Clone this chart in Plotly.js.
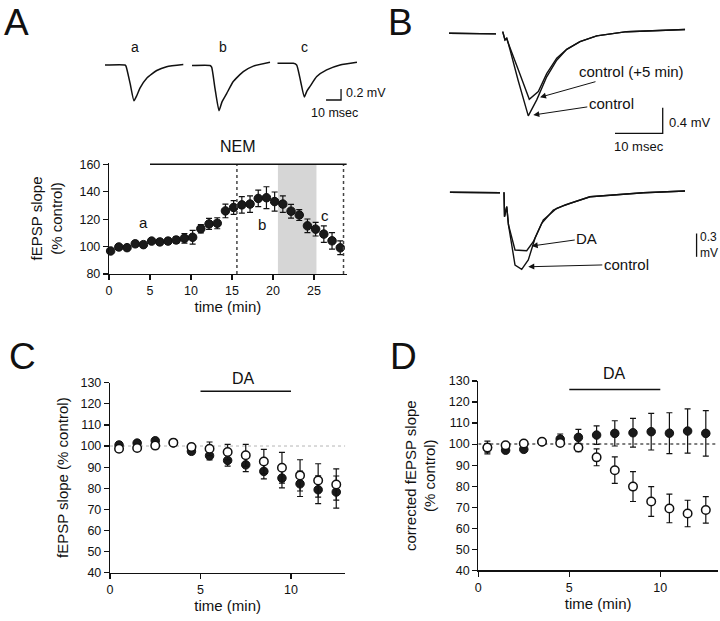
<!DOCTYPE html>
<html><head><meta charset="utf-8">
<script src="https://cdn.plot.ly/plotly-3.0.1.min.js"></script>
<style>html,body{margin:0;padding:0;background:#fff}#chart{width:720px;height:621px}</style>
</head><body><div id="chart"></div>
<script>
// ---------- Panel A : fEPSP slope time course (NEM) ----------
const aTime  = [0.2,1.2,2.2,3.2,4.2,5.2,6.2,7.2,8.2,9.2,10.2,11.2,12.2,13.2,14.2,15.2,16.2,17.2,18.2,19.2,20.2,21.2,22.2,23.2,24.2,25.2,26.2,27.2,28.2];
const aSlope = [96.8,99.7,99.2,102,101.4,104,103.4,104,104.8,106,106.8,113,116.5,117,126,128.5,130.4,131,135.1,135.6,132.8,131,125.8,123,115.1,112.7,109.1,104.2,99.1];
const aErr   = [1.5,1.5,1.5,2,2,1.5,2,2,2.5,3.5,5,3,4,4,5,5,6,6,6,8,7,6,5,4,5,5,6,6,5];
const aTicksX = [0,5,10,15,20,25];
const aTicksY = [80,100,120,140,160];
const nemStart = 5, nemEnd = 29;          // NEM application (min)
const aDotted = [15.6, 28.6];             // dotted markers (min)
const aShade  = [20.6, 25.3];             // shaded sample window (min)
const aPointLabels = [{t:4.2,v:117.6,s:'a'},{t:18.6,v:116,s:'b'},{t:26.3,v:123,s:'c'}];

// Panel A : example traces a, b, c (ms, mV)
const trA_t = [0,13.3,14,16.7,19.3,21.3,23.3,27.8,34.5,41.1,52.2];
const trA_v = [0,0,-0.02,-0.33,-0.65,-0.55,-0.42,-0.24,-0.10,-0.03,0.01];
const trB_t = [0,12,13.1,15.3,18,20,23.1,27.5,34.2,40.9,52];
const trB_v = [-0.01,-0.01,-0.04,-0.42,-0.83,-0.67,-0.52,-0.30,-0.12,-0.02,0.05];
const trC_t = [0,10.7,12.9,15.5,18,19.8,21.8,26.3,32.9,41.8,53.1];
const trC_v = [0.03,0.03,0,-0.29,-0.58,-0.47,-0.39,-0.21,-0.09,0,0.05];

// ---------- Panel B : field EPSP traces (ms, mV) ----------
const bTopCtl_t  = [0,9.85,10.5,11.26,11.74,12.1,12.43,14.47,16.62,18.39,20.48,22.58,24.68,27.46,30.96,37.25,49.48];
const bTopCtl_v  = [0,-0.01,null,0.025,-0.105,-0.078,-0.156,-0.73,-1.29,-1.04,-0.68,-0.42,-0.25,-0.13,-0.04,0.025,0.06];
const bTopCtl5_t = [0,9.85,10.5,11.26,11.74,12.1,12.43,14.47,16.83,18.72,20.48,22.58,24.68,27.46,30.96,37.25,49.48];
const bTopCtl5_v = [0,-0.01,null,0.025,-0.105,-0.078,-0.156,-0.56,-1.03,-0.91,-0.63,-0.39,-0.25,-0.13,-0.04,0.025,0.06];
const bBotCtl_t  = [0.2,10.69,11.1,11.53,11.64,12.1,12.47,13.84,15.24,16.62,18.03,19.77,22.58,25.37,29.56,40.73,49.48];
const bBotCtl_v  = [0,-0.005,null,0,-0.314,-0.185,-0.42,-0.936,-0.991,-0.871,-0.592,-0.357,-0.206,-0.142,-0.057,-0.005,0.017];
const bBotDA_t   = [0.2,10.69,11.1,11.53,11.64,12.1,12.47,13.84,16.29,17.67,19.43,21.87,24.32,29.56,40.73,49.48];
const bBotDA_v   = [0,-0.005,null,0,-0.314,-0.185,-0.42,-0.743,-0.752,-0.636,-0.399,-0.228,-0.163,-0.057,-0.005,0.017];

// ---------- Panel C : fEPSP slope, DA ----------
const cdTime   = [0.5,1.5,2.5,3.5,4.5,5.5,6.5,7.5,8.5,9.5,10.5,11.5,12.5];
const cFilled  = [100.5,101.4,102.5,101.5,97.5,95.4,93.2,91.1,88.0,84.8,82.1,79.3,78.2];
const cFilledE = [1.5,1.2,1.2,1.2,1.5,2,2.7,3.2,3.6,4.6,6,6.6,7.6];
const cOpen    = [98.7,99.1,100.2,101.6,99.5,98.7,97.2,95.6,92.7,89.7,86.1,83.7,81.8];
const cOpenE   = [1.5,1.2,1.2,1,1.6,3.2,3.6,5.2,5.7,7.3,7.4,7.9,7.4];
// ---------- Panel D : corrected fEPSP slope, DA ----------
const dFilled  = [98.2,97.1,97.5,101.1,102.4,103.2,104.3,105.1,105.4,105.9,105.2,106.2,105.1];
const dFilledE = [2,1.2,1.2,1,2.4,3.8,4.4,6,6.8,8.7,9.7,10.5,10.8];
const dOpen    = [98.4,99.4,100.3,101.1,100.5,98.4,93.7,87.6,79.8,72.7,69.4,67,68.7];
const dOpenE   = [3,1.2,1.2,1,1.2,2,4,6.3,7.1,7.1,6.8,6.3,6.3];
const cdTicksX = [0,5,10];
const cdTicksY = [40,50,60,70,80,90,100,110,120,130];
const daStart = 5, daEnd = 10, daLevel = 126;

const FONT = 'Liberation Sans, Arial, Helvetica, sans-serif';
const INK = '#111';
const W = 720, H = 621;
const px = v => v / W, py = v => 1 - v / H;

function errBar(arr){ return {type:'data', array:arr, visible:true, color:INK, thickness:1.2, width:3}; }
const filledM = {size:8.5, color:'#1a1a1a', line:{color:INK, width:1}};
const openM   = {size:8.5, color:'#ffffff', line:{color:INK, width:1.5}};
const traceLine = {color:INK, width:1.4};

const data = [
  {x:aTime, y:aSlope, xaxis:'x', yaxis:'y', mode:'markers', type:'scatter', marker:filledM, error_y:errBar(aErr), showlegend:false, cliponaxis:false},
  {x:cdTime, y:cFilled, xaxis:'x2', yaxis:'y2', mode:'markers', type:'scatter', marker:filledM, error_y:errBar(cFilledE), showlegend:false, cliponaxis:false},
  {x:cdTime, y:cOpen, xaxis:'x2', yaxis:'y2', mode:'markers', type:'scatter', marker:openM, error_y:errBar(cOpenE), showlegend:false, cliponaxis:false},
  {x:cdTime, y:dFilled, xaxis:'x3', yaxis:'y3', mode:'markers', type:'scatter', marker:filledM, error_y:errBar(dFilledE), showlegend:false, cliponaxis:false},
  {x:cdTime, y:dOpen, xaxis:'x3', yaxis:'y3', mode:'markers', type:'scatter', marker:openM, error_y:errBar(dOpenE), showlegend:false, cliponaxis:false},
  {x:bTopCtl_t, y:bTopCtl_v, xaxis:'x4', yaxis:'y4', mode:'lines', line:traceLine, showlegend:false},
  {x:bTopCtl5_t, y:bTopCtl5_v, xaxis:'x4', yaxis:'y4', mode:'lines', line:traceLine, showlegend:false},
  {x:bBotCtl_t, y:bBotCtl_v, xaxis:'x5', yaxis:'y5', mode:'lines', line:traceLine, showlegend:false},
  {x:bBotDA_t, y:bBotDA_v, xaxis:'x5', yaxis:'y5', mode:'lines', line:traceLine, showlegend:false},
  {x:trA_t, y:trA_v, xaxis:'x6', yaxis:'y6', mode:'lines', line:{color:INK,width:1.5,shape:'spline',smoothing:0.5}, showlegend:false},
  {x:trB_t, y:trB_v, xaxis:'x7', yaxis:'y6', mode:'lines', line:{color:INK,width:1.5,shape:'spline',smoothing:0.5}, showlegend:false},
  {x:trC_t, y:trC_v, xaxis:'x8', yaxis:'y6', mode:'lines', line:{color:INK,width:1.5,shape:'spline',smoothing:0.5}, showlegend:false}
];

const axBase = {showline:true, linecolor:INK, linewidth:1.2, ticks:'outside', ticklen:5, tickwidth:1.2, tickcolor:INK,
  showgrid:false, zeroline:false, tickfont:{size:12.5, color:INK}, fixedrange:true};
const hidden = {visible:false, fixedrange:true};

const layout = {
  width:W, height:H, margin:{l:0,r:0,t:0,b:0}, paper_bgcolor:'#fff', plot_bgcolor:'rgba(0,0,0,0)',
  font:{family:FONT, color:INK}, showlegend:false,
  xaxis: Object.assign({}, axBase, {domain:[px(109), px(346.8)], range:[0,29], anchor:'y', tickvals:aTicksX,
    title:{text:'time (min)', font:{size:15}, standoff:3}}),
  yaxis: Object.assign({}, axBase, {domain:[py(274), py(162.9)], range:[80,161], anchor:'x', tickvals:aTicksY,
    title:{text:'fEPSP slope<br>(% control)', font:{size:15}, standoff:13}}),
  xaxis2: Object.assign({}, axBase, {domain:[px(110), px(345.3)], range:[0,13], anchor:'y2', tickvals:cdTicksX,
    title:{text:'time (min)', font:{size:15}, standoff:2}}),
  yaxis2: Object.assign({}, axBase, {domain:[py(572.7), py(382.7)], range:[40,130], anchor:'x2', tickvals:cdTicksY,
    title:{text:'fEPSP slope (% control)', font:{size:15}, standoff:8}}),
  xaxis3: Object.assign({}, axBase, {domain:[px(478.3), px(718)], range:[0,13.17], anchor:'y3', tickvals:cdTicksX,
    title:{text:'time (min)', font:{size:15}, standoff:5}}),
  yaxis3: Object.assign({}, axBase, {domain:[py(570.3), py(381)], range:[40,130], anchor:'x3', tickvals:cdTicksY,
    title:{text:'corrected fEPSP slope<br>(% control)', font:{size:15}, standoff:9}}),
  xaxis4: Object.assign({}, hidden, {domain:[px(440), 1], range:[-1.887, 56.81], anchor:'y4'}),
  yaxis4: Object.assign({}, hidden, {domain:[py(160), 1], range:[-1.98, 0.52], anchor:'x4'}),
  xaxis5: Object.assign({}, hidden, {domain:[px(440), 1], range:[-1.887, 56.81], anchor:'y5'}),
  yaxis5: Object.assign({}, hidden, {domain:[py(290), py(170)], range:[-1.257, 0.287], anchor:'x5'}),
  xaxis6: Object.assign({}, hidden, {domain:[px(105), px(185)], range:[0,53.33], anchor:'y6'}),
  xaxis7: Object.assign({}, hidden, {domain:[px(192), px(272)], range:[0,53.33], anchor:'y6'}),
  xaxis8: Object.assign({}, hidden, {domain:[px(277.3), px(360)], range:[0,55.13], anchor:'y6'}),
  yaxis6: Object.assign({}, hidden, {domain:[py(120), py(40)], range:[-1.0, 0.4545], anchor:'x6'}),
  shapes: [
    {type:'rect', xref:'x', yref:'y', x0:aShade[0], x1:aShade[1], y0:80, y1:160, fillcolor:'#d6d6d6', line:{width:0}, layer:'below'},
    {type:'line', xref:'x', yref:'y', x0:aDotted[0], x1:aDotted[0], y0:80, y1:160, line:{color:'#444', width:1.5, dash:'dot'}},
    {type:'line', xref:'x', yref:'y', x0:aDotted[1], x1:aDotted[1], y0:80, y1:160, line:{color:'#444', width:1.5, dash:'dot'}},
    {type:'line', xref:'x', yref:'y', x0:nemStart, x1:nemEnd, y0:160, y1:160, line:{color:INK, width:1.5}},
    {type:'line', xref:'x2', yref:'y2', x0:0, x1:13, y0:100, y1:100, line:{color:'#b5b5b5', width:1, dash:'dot'}, layer:'below'},
    {type:'line', xref:'x2', yref:'y2', x0:daStart, x1:daEnd, y0:daLevel, y1:daLevel, line:{color:INK, width:1.5}},
    {type:'line', xref:'x3', yref:'y3', x0:0, x1:13.17, y0:100, y1:100, line:{color:'#555', width:1.5, dash:'dot'}, layer:'below'},
    {type:'line', xref:'x3', yref:'y3', x0:daStart, x1:daEnd, y0:daLevel, y1:daLevel, line:{color:INK, width:1.5}},
    {type:'path', xref:'x4', yref:'y4', path:'M 34.8 -1.5625 L 44.8 -1.5625 L 44.8 -1.1625', line:{color:INK, width:1.3}},
    {type:'line', xref:'x5', yref:'y5', x0:51.9, x1:51.9, y0:-0.83, y1:-0.53, line:{color:INK, width:1.3}},
    {type:'path', xref:'x8', yref:'y6', path:'M 32.5 -0.636 L 42.5 -0.636 L 42.5 -0.436', line:{color:INK, width:1.3}}
  ],
  annotations: [
    {text:'A', xref:'paper', yref:'paper', x:px(16), y:1, showarrow:false, font:{size:37}, xanchor:'center', yanchor:'top'},
    {text:'B', xref:'paper', yref:'paper', x:px(400), y:1, showarrow:false, font:{size:37}, xanchor:'center', yanchor:'top'},
    {text:'C', xref:'paper', yref:'paper', x:px(22), y:py(356), showarrow:false, font:{size:37}, xanchor:'center', yanchor:'middle'},
    {text:'D', xref:'paper', yref:'paper', x:px(403), y:py(356), showarrow:false, font:{size:37}, xanchor:'center', yanchor:'middle'},
    {text:'NEM', xref:'x', yref:'paper', x:15.7, y:py(147), showarrow:false, font:{size:16}, yanchor:'middle'},
    ...aPointLabels.map(p => ({text:p.s, xref:'x', yref:'y', x:p.t, y:p.v, showarrow:false, font:{size:15}})),
    {text:'a', xref:'x6', yref:'y6', x:20, y:0.333, showarrow:false, font:{size:14}},
    {text:'b', xref:'x7', yref:'y6', x:20.5, y:0.333, showarrow:false, font:{size:14}},
    {text:'c', xref:'x8', yref:'y6', x:17.8, y:0.333, showarrow:false, font:{size:14}},
    {text:'0.2 mV', xref:'x8', yref:'y6', x:44.5, y:-0.51, showarrow:false, font:{size:12.5}, xanchor:'left'},
    {text:'10 msec', xref:'x8', yref:'y6', x:37.8, y:-0.873, showarrow:false, font:{size:12.5}},
    {text:'control (+5 min)', xref:'x4', yref:'y4', x:19.08, y:-1.0, ax:91, ay:-25.6, showarrow:true, arrowhead:2, arrowsize:1.2, arrowwidth:1, arrowcolor:INK, font:{size:15}},
    {text:'control', xref:'x4', yref:'y4', x:17.67, y:-1.277, ax:78, ay:-11.7, showarrow:true, arrowhead:2, arrowsize:1.2, arrowwidth:1, arrowcolor:INK, font:{size:15}},
    {text:'0.4 mV', xref:'x4', yref:'y4', x:45.7, y:-1.40, showarrow:false, font:{size:13}, xanchor:'left'},
    {text:'10 msec', xref:'x4', yref:'y4', x:39.8, y:-1.77, showarrow:false, font:{size:13}},
    {text:'DA', xref:'x5', yref:'y5', x:17.34, y:-0.691, ax:55, ay:-7.7, showarrow:true, arrowhead:2, arrowsize:1.2, arrowwidth:1, arrowcolor:INK, font:{size:15}},
    {text:'control', xref:'x5', yref:'y5', x:16.62, y:-0.958, ax:98, ay:-2.4, showarrow:true, arrowhead:2, arrowsize:1.2, arrowwidth:1, arrowcolor:INK, font:{size:15}},
    {text:'0.3<br>mV', xref:'x5', yref:'y5', x:52.3, y:-0.68, showarrow:false, font:{size:12}, xanchor:'left', align:'left'},
    {text:'DA', xref:'x2', yref:'paper', x:7.35, y:py(378), showarrow:false, font:{size:16}, yanchor:'middle'},
    {text:'DA', xref:'x3', yref:'paper', x:7.46, y:py(373), showarrow:false, font:{size:16}, yanchor:'middle'}
  ]
};

Plotly.newPlot('chart', data, layout, {displayModeBar:false, staticPlot:true});
</script>
</body></html>
